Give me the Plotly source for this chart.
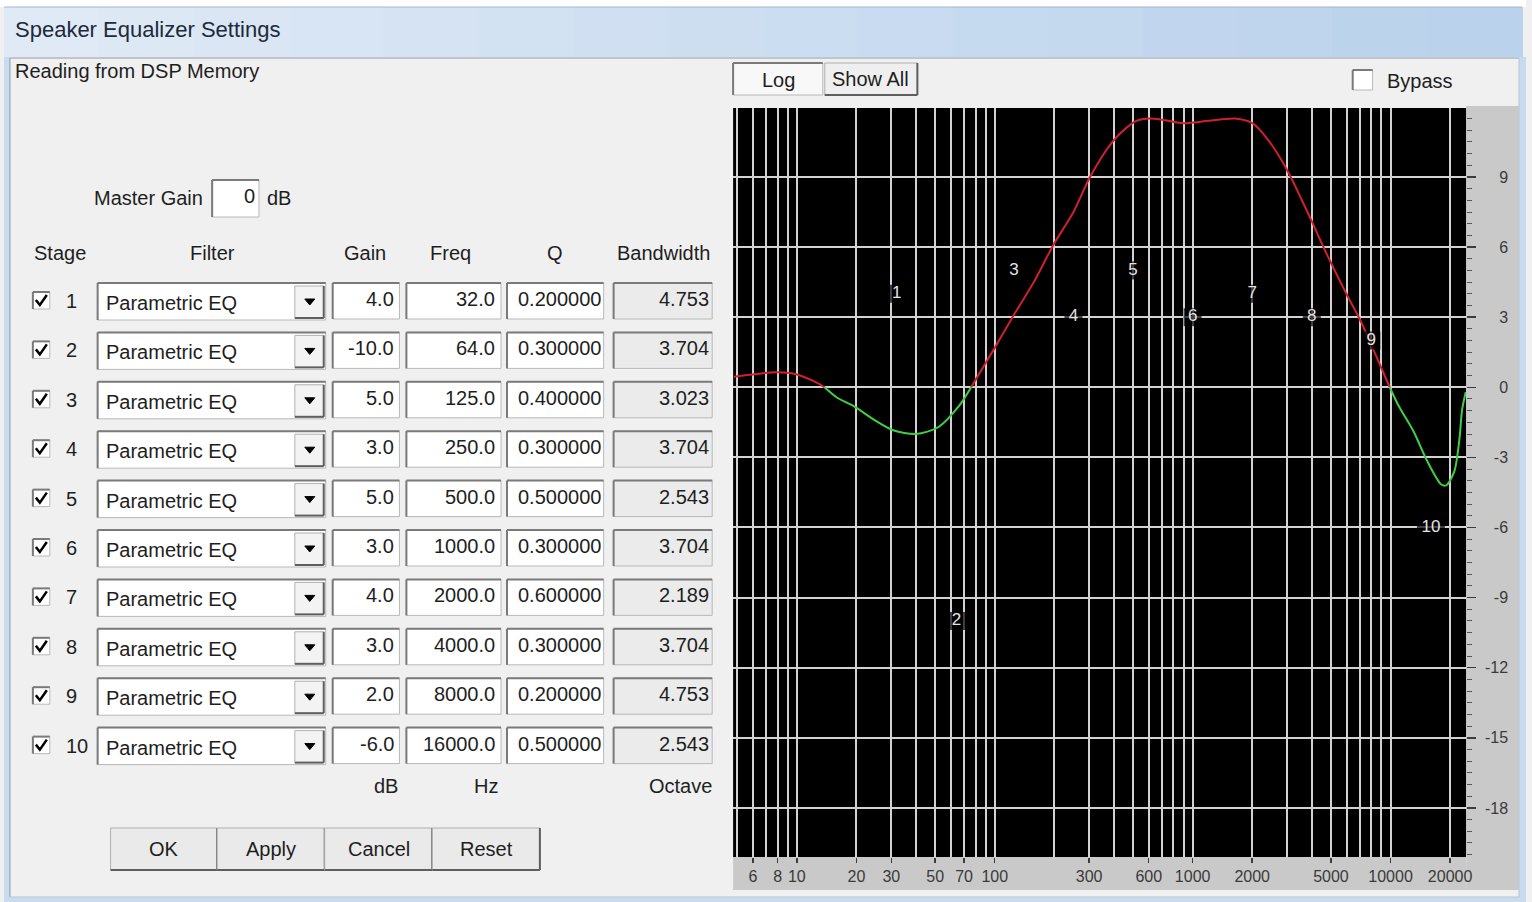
import plotly.graph_objects as go

W, H = 1532, 902
FONT = "Liberation Sans, Arial, sans-serif"

# ---------------- data ----------------
STAGES = [1, 2, 3, 4, 5, 6, 7, 8, 9, 10]
FILTERS = ["Parametric EQ"] * 10
GAIN_DB = [4.0, -10.0, 5.0, 3.0, 5.0, 3.0, 4.0, 3.0, 2.0, -6.0]
FREQ_HZ = [32.0, 64.0, 125.0, 250.0, 500.0, 1000.0, 2000.0, 4000.0, 8000.0, 16000.0]
Q_VALUES = [0.2, 0.3, 0.4, 0.3, 0.5, 0.3, 0.6, 0.3, 0.2, 0.5]
BANDWIDTH_OCT = [4.753, 3.704, 3.023, 3.704, 2.543, 3.704, 2.189, 3.704, 4.753, 2.543]
MASTER_GAIN = 0

# combined response (Hz, dB)
RESP_FREQ = [4.8, 6, 7.9, 10, 12.6, 13.8, 16, 19.3, 25.2, 30.7, 40, 52, 66, 76,
             101, 123, 160, 198, 250, 303, 393, 462, 520, 600, 700, 890, 1200, 1640,
             2000, 2400, 3000, 3900, 4700, 5900, 7000, 8500, 9900, 11000, 13100,
             15200, 18000, 19100, 21000, 22300, 23000, 24000]
RESP_DB = [0.45, 0.55, 0.64, 0.55, 0.2, 0.0, -0.45, -0.8, -1.45, -1.84, -2.0, -1.7, -0.8, 0.0,
           1.75, 3.0, 4.6, 6.1, 7.5, 9.0, 10.5, 11.1, 11.4, 11.5, 11.45, 11.3, 11.4, 11.5,
           11.3, 10.6, 9.3, 7.3, 5.8, 4.1, 2.9, 1.3, 0.0, -0.8, -1.9,
           -3.1, -4.15, -4.2, -3.6, -2.2, -0.95, -0.2]

X_TICK_VALS = [6, 8, 10, 20, 30, 50, 70, 100, 300, 600, 1000, 2000, 5000, 10000, 20000]
X_GRID_VALS = [5, 6, 7, 8, 9, 10, 20, 30, 40, 50, 60, 70, 80, 90, 100, 200, 300, 400,
               500, 600, 700, 800, 900, 1000, 2000, 3000, 4000, 5000, 6000, 7000,
               8000, 9000, 10000, 20000]
Y_TICK_VALS = [9, 6, 3, 0, -3, -6, -9, -12, -15, -18]

# ---------------- helpers (pixel -> paper) ----------------
shapes = []
annos = []


def X(px):
    return px / W


def Y(py):
    return 1 - py / H


def rect(x0, y0, x1, y1, fill, line=None, lw=1):
    shapes.append(dict(type="rect", xref="paper", yref="paper",
                       x0=X(x0), x1=X(x1), y0=Y(y1), y1=Y(y0),
                       fillcolor=fill,
                       line=dict(color=line if line else fill, width=lw if line else 0),
                       layer="below"))


def seg(x0, y0, x1, y1, color, lw=1):
    shapes.append(dict(type="line", xref="paper", yref="paper",
                       x0=X(x0), x1=X(x1), y0=Y(y0), y1=Y(y1),
                       line=dict(color=color, width=lw), layer="below"))


def poly(pts, fill=None, color="#000000", lw=1, closed=False):
    p = "M " + " L ".join(f"{X(a):.5f},{Y(b):.5f}" for a, b in pts)
    if closed:
        p += " Z"
    shapes.append(dict(type="path", xref="paper", yref="paper", path=p,
                       fillcolor=fill if fill else "rgba(0,0,0,0)",
                       line=dict(color=color, width=lw), layer="above"))


def label(x, y, s, anchor="left", size=20, color="#1e1e1e"):
    annos.append(dict(xref="paper", yref="paper", x=X(x), y=Y(y), text=s,
                      showarrow=False, xanchor=anchor, yanchor="middle",
                      borderpad=0, font=dict(family=FONT, size=size, color=color)))


def sunken(x0, y0, x1, y1, fill="#ffffff"):
    rect(x0, y0, x1, y1, fill, "#b8b8b8", 1)
    seg(x0, y0, x1, y0, "#7a7a7a", 2)
    seg(x0, y0, x0, y1, "#7a7a7a", 2)


def raised(x0, y0, x1, y1, fill="#ececec"):
    rect(x0, y0, x1, y1, fill, "#b0b0b0", 1)
    seg(x0, y1, x1, y1, "#5e5e5e", 2)
    seg(x1, y0, x1, y1, "#5e5e5e", 2)


# ---------------- window chrome ----------------
rect(0, 0, 1532, 7, "#ffffff")
n_sl = 16
c0, c1 = (224, 234, 246), (186, 210, 236)
for k in range(n_sl):
    t = k / (n_sl - 1)
    col = tuple(int(c0[j] + (c1[j] - c0[j]) * t) for j in range(3))
    xa = 4 + (1528 - 4) * k / n_sl
    xb = 4 + (1528 - 4) * (k + 1) / n_sl + 1
    rect(xa, 7, xb, 57, f"rgb{col}")
seg(4, 7, 1528, 7, "#9fb6cf", 1)
rect(4, 57, 10, 902, "#c9dbee")
rect(1525, 57, 1532, 902, "#c9dbee")
rect(4, 897, 1532, 902, "#c9dbee")
seg(10, 58, 1525, 58, "#8e9aa8", 1)
seg(10, 58, 10, 897, "#8e9aa8", 1)
seg(1525, 58, 1525, 897, "#b9c4d0", 1)
seg(10, 897, 1525, 897, "#b9c4d0", 1)

label(14, 30, "Speaker Equalizer Settings", size=22, color="#1c2a3a")
label(14, 71, "Reading from DSP Memory", size=20)

# master gain
label(205, 198, "Master Gain", "right")
sunken(213, 180, 260, 217)
label(257, 196, str(MASTER_GAIN), "right")
label(267, 198, "dB")

# headers
label(33, 253, "Stage")
label(213, 253, "Filter", "center")
label(366, 253, "Gain", "center")
label(452, 253, "Freq", "center")
label(557, 253, "Q", "center")
label(666, 253, "Bandwidth", "center")

# rows
for i, st in enumerate(STAGES):
    yc = 301 + i * 49.4
    sunken(33, yc - 9, 50, yc + 8)
    poly([(36, yc - 1), (40, yc + 4), (47, yc - 6)], color="#000000", lw=2.5)
    label(65, yc, str(st))
    sunken(98, yc - 18, 327, yc + 19)
    label(105, yc + 2, FILTERS[i])
    raised(296, yc - 15, 325, yc + 17, "#f3f3f3")
    poly([(306, yc - 2), (316, yc - 2), (311, yc + 4)], fill="#000000", color="#000000", lw=1, closed=True)
    sunken(334, yc - 18, 401, yc + 18)
    label(397, yc - 2, f"{GAIN_DB[i]:.1f}", "right")
    sunken(408, yc - 18, 503, yc + 18)
    label(498, yc - 2, f"{FREQ_HZ[i]:.1f}", "right")
    sunken(509, yc - 18, 606, yc + 18)
    label(604, yc - 2, f"{Q_VALUES[i]:.6f}", "right")
    sunken(616, yc - 18, 715, yc + 18, "#ebebeb")
    label(713, yc - 2, f"{BANDWIDTH_OCT[i]:.3f}", "right")

# units
label(388, 786, "dB", "center")
label(488, 786, "Hz", "center")
label(683, 786, "Octave", "center")

# buttons
for (xa, xb, txt) in [(111, 218, "OK"), (218, 326, "Apply"), (326, 434, "Cancel"), (434, 542, "Reset")]:
    raised(xa, 828, xb, 870, "#eaeaea")
    label((xa + xb) / 2, 849, txt, "center")

# chart header controls
sunken(736, 63, 826, 95, "#f8f8f8")
label(782, 80, "Log", "center")
raised(828, 63, 921, 95, "#efefef")
label(874, 79, "Show All", "center")
sunken(1358, 70, 1378, 90)
label(1391, 81, "Bypass")

# gray scale strips around plot
rect(1472, 106, 1525, 890, "#c9c9c9")
rect(736, 857, 1472, 890, "#c9c9c9")

# ---------------- traces ----------------
red_y = [d if d >= 0 else None for d in RESP_DB]
green_y = [d if d <= 0 else None for d in RESP_DB]

fig = go.Figure()
fig.add_trace(go.Scatter(x=RESP_FREQ, y=red_y, mode="lines",
                         line=dict(color="#d0202e", width=2, shape="spline", smoothing=0.8),
                         hoverinfo="skip", showlegend=False, connectgaps=False))
fig.add_trace(go.Scatter(x=RESP_FREQ, y=green_y, mode="lines",
                         line=dict(color="#3fcf45", width=2, shape="spline", smoothing=0.8),
                         hoverinfo="skip", showlegend=False, connectgaps=False))
fig.add_trace(go.Scatter(x=FREQ_HZ, y=GAIN_DB, mode="markers+text",
                         text=[str(s) for s in STAGES], textposition="middle center",
                         textfont=dict(family=FONT, size=17, color="#e4e4e4"),
                         marker=dict(symbol="square", size=[18 if s < 10 else 28 for s in STAGES],
                                     color="#000000", line=dict(width=0)),
                         hoverinfo="skip", showlegend=False))
fig.add_trace(go.Scatter(x=[FREQ_HZ[0]], y=[GAIN_DB[0]], yaxis="y2", mode="markers",
                         marker=dict(opacity=0), hoverinfo="skip", showlegend=False))

GRID = "#d2d2d2"
fig.update_layout(
    width=W, height=H, margin=dict(l=0, r=0, t=0, b=0),
    paper_bgcolor="#f0f0f0", plot_bgcolor="#000000",
    font=dict(family=FONT),
    shapes=shapes, annotations=annos,
    xaxis=dict(domain=[X(736), X(1472)], type="log", range=[0.678, 4.3825],
               tickmode="array", tickvals=X_TICK_VALS, ticktext=[str(v) for v in X_TICK_VALS],
               ticks="outside", ticklen=5, tickwidth=1.5, tickcolor="#3c3c3c",
               tickfont=dict(family=FONT, size=16, color="#3a3a3a"),
               showgrid=True, gridcolor=GRID, gridwidth=2, zeroline=False, showline=False,
               minor=dict(tickmode="array", tickvals=X_GRID_VALS, showgrid=True,
                          gridcolor=GRID, gridwidth=2, ticks=""),
               fixedrange=True),
    yaxis=dict(domain=[Y(857), Y(108)], range=[-20.1, 11.95], side="right",
               tick0=0, dtick=3, ticks="outside", ticklen=9, tickwidth=1.5, tickcolor="#3c3c3c",
               showticklabels=False, showgrid=True, gridcolor=GRID, gridwidth=2,
               zeroline=False, showline=False,
               minor=dict(tick0=0, dtick=0.5, ticks="outside", ticklen=5, tickwidth=1,
                          tickcolor="#555555", showgrid=False),
               fixedrange=True),
    yaxis2=dict(overlaying="y", anchor="free", position=X(1514), side="left",
                range=[-20.1, 11.95], tickmode="array", tickvals=Y_TICK_VALS,
                ticktext=[str(v) for v in Y_TICK_VALS], ticks="",
                tickfont=dict(family=FONT, size=16, color="#3a3a3a"),
                showgrid=False, zeroline=False, showline=False, fixedrange=True),
)

fig.write_html("out.html", include_plotlyjs=True,
               config={"displayModeBar": False, "staticPlot": True},
               post_script="document.body.style.margin='0';document.body.style.overflow='hidden';")
